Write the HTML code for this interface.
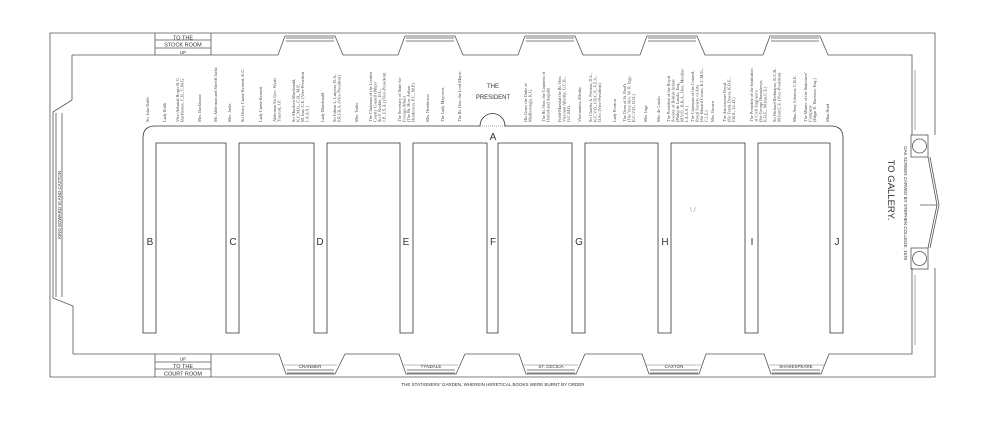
<!DOCTYPE html>
<html><head><meta charset="utf-8"><style>
html,body{margin:0;padding:0;background:#fff;width:1000px;height:428px;overflow:hidden}
svg{display:block}
.n{font-family:"Liberation Serif",serif;font-size:4.3px;fill:#444}
.c{font-family:"Liberation Sans",sans-serif;fill:#333}
</style></head><body>
<svg width="1000" height="428" viewBox="0 0 1000 428" xmlns="http://www.w3.org/2000/svg">
<g fill="none" stroke="#555" stroke-width="0.8">
<!-- outer walls -->
<path d="M935,135 V33 H50 V377 H935 V268"/>
<!-- inner top wall with window recesses -->
<path d="M72,55 H155 M211,55 H278 L285,36 H335 L343,55 H398 L405,36 H455 L463,55 H518 L525,36 H575 L583,55 H640 L647,36 H697 L705,55 H763 L770,36 H820 L828,55 H912 V135"/>
<!-- inner bottom wall -->
<path d="M73,354 H155 M211,354 H279 L286,374 H335 L345,354 H399 L406,374 H456 L465,354 H519 L526,374 H576 L585,354 H642 L649,374 H699 L706,354 H764 L771,374 H821 L829,354 H912 V268"/>
<!-- left wall with window -->
<path d="M72,55 V100 L53,112 V298 L73,306 V354"/>
<path d="M56,113 V297 M62,113 V297"/>
<!-- stock room / court room boxes -->
<path d="M155,33 V55 H211 V33 M155,40 H211 M155,48 H211"/>
<path d="M155,377 V354 H211 V377 M155,362 H211 M155,369 H211"/>
<!-- right gallery -->
<rect x="911" y="135" width="17" height="22"/>
<circle cx="919.5" cy="146" r="7"/>
<rect x="911" y="248" width="17" height="21"/>
<circle cx="919.5" cy="258.5" r="7"/>
<path d="M928,157 L937,205 L928,248 M930,157 L939,205 L930,248 M920,205 H937"/>
<path d="M915,70 V130 M915,275 V345" stroke-width="0.5"/>
<!-- tables comb -->
<path d="M143,333 V138 Q143,126 155,126 H480 A12.5,12.5 0 0 1 505,126 H831 Q843,126 843,138 V333 H830 V143 H758 V333 H745 V143 H671 V333 H658 V143 H585 V333 H572 V143 H498 V333 H487 V143 H413 V333 H400 V143 H327 V333 H314 V143 H239 V333 H226 V143 H156 V333 Z" stroke="#333"/>
<path d="M480,126 H505" stroke-width="0.5" stroke-dasharray="1,1"/>
</g>
<!-- window glass lines -->
<g stroke="#555" stroke-width="0.7" fill="none">
<path d="M286,38 H334 M286,41 H334 M406,38 H454 M406,41 H454 M526,38 H574 M526,41 H574 M648,38 H696 M648,41 H696 M771,38 H819 M771,41 H819"/>
<path d="M287,370 H334 M287,373 H334 M407,370 H455 M407,373 H455 M527,370 H575 M527,373 H575 M650,370 H698 M650,373 H698 M772,370 H820 M772,373 H820"/>
<path d="M284,365 H337 M404,365 H458 M524,365 H578 M646,365 H701 M769,365 H824" stroke-width="0.4"/>
</g>
<!-- labels -->
<g class="c" font-size="5.5" text-anchor="middle">
<text x="183" y="39.5">TO THE</text>
<text x="183" y="46.5">STOCK ROOM</text>
<text x="183" y="54" font-size="4.5">UP</text>
<text x="183" y="360.5" font-size="4.5">UP</text>
<text x="183" y="368">TO THE</text>
<text x="183" y="375.5">COURT ROOM</text>
<text x="310" y="368" font-size="4.5">CRANMER</text>
<text x="431" y="368" font-size="4.5">TYNDALE</text>
<text x="551" y="368" font-size="4.5">ST. CECILIA</text>
<text x="674" y="368" font-size="4.5">CAXTON</text>
<text x="796" y="368" font-size="4.5">SHAKESPEARE</text>
<text x="493" y="386" font-size="4.5">THE STATIONERS' GARDEN, WHEREIN HERETICAL BOOKS WERE BURNT BY ORDER</text>
<text transform="translate(61,205) rotate(-90)" font-size="4.5">KING EDWARD VI AND CAXTON</text>
<text transform="translate(904,203) rotate(90)" font-size="4.5">OAK SCREEN CARVED BY STEPHEN COLLEGE, 1670</text>
<text transform="translate(888,190) rotate(90)" font-size="9.5">TO GALLERY.</text>
</g>
<g class="c" font-size="6" text-anchor="middle" font-family="Liberation Serif,serif">
<text x="493" y="88">THE</text>
<text x="493" y="99">PRESIDENT</text>
</g>
<g class="c" font-size="10" text-anchor="middle">
<text x="493" y="140">A</text>
<text x="150" y="245">B</text>
<text x="233" y="245">C</text>
<text x="320" y="245">D</text>
<text x="406" y="245">E</text>
<text x="493" y="245">F</text>
<text x="579" y="245">G</text>
<text x="665" y="245">H</text>
<text x="752" y="245">I</text>
<text x="837" y="245">J</text>
</g>
<text x="690" y="212" font-size="7" fill="#666" font-family="Liberation Serif,serif">\ /</text>
<!-- names -->
<g class="n">
<text transform="translate(149,122) rotate(-90)">Sir John Robb</text>
<text transform="translate(166,122) rotate(-90)">Lady Robb</text>
<text transform="translate(179,122) rotate(-90)"><tspan x="0" y="0">Vice-Admiral Roger B. C.</tspan><tspan x="0" y="4.5">Backhouse, C.B., C.M.G.</tspan></text>
<text transform="translate(201,122) rotate(-90)">Mrs. Backhouse</text>
<text transform="translate(217,122) rotate(-90)">Mr. Alderman and Sheriff Jacks</text>
<text transform="translate(231,122) rotate(-90)">Mrs. Jacks</text>
<text transform="translate(244,122) rotate(-90)">Sir Henry Curtis-Bennett, K.C.</text>
<text transform="translate(262,122) rotate(-90)">Lady Curtis-Bennett</text>
<text transform="translate(276,122) rotate(-90)"><tspan x="0" y="0">Alderman Sir Geo. Wyatt</tspan><tspan x="0" y="4.5">Truscott, J.P.</tspan></text>
<text transform="translate(295,122) rotate(-90)"><tspan x="0" y="0">Sir Murdoch Macdonald,</tspan><tspan x="0" y="4.5">K.C.M.G., C.B., M.P.,</tspan><tspan x="0" y="9">M. Inst. C.E. (Vice-President</tspan><tspan x="0" y="13.5">I.A.A.S.)</tspan></text>
<text transform="translate(324,122) rotate(-90)">Lady Macdonald</text>
<text transform="translate(336,122) rotate(-90)"><tspan x="0" y="0">Sir Edwin L. Lutyens, R.A.,</tspan><tspan x="0" y="4.5">P.R.I.B.A. (Vice-President)</tspan></text>
<text transform="translate(358,122) rotate(-90)">Mrs. Tudor</text>
<text transform="translate(372,122) rotate(-90)"><tspan x="0" y="0">The Chairman of the London</tspan><tspan x="0" y="4.5">County Council (Major</tspan><tspan x="0" y="9">Sir F. Keeble, D.L.,</tspan><tspan x="0" y="13.5">J.P., F.S.A.) (Vice-President)</tspan></text>
<text transform="translate(401,122) rotate(-90)"><tspan x="0" y="0">The Secretary of State for</tspan><tspan x="0" y="4.5">Foreign Affairs</tspan><tspan x="0" y="9">(The Rt. Hon. Arthur</tspan><tspan x="0" y="13.5">Henderson, P.C., M.P.)</tspan></text>
<text transform="translate(429,122) rotate(-90)">Mrs. Henderson</text>
<text transform="translate(444,122) rotate(-90)">The Lady Mayoress</text>
<text transform="translate(461,122) rotate(-90)">The Rt. Hon. the Lord Mayor</text>
<text transform="translate(527,122) rotate(-90)"><tspan x="0" y="0">His Grace the Duke of</tspan><tspan x="0" y="4.5">Marlborough, K.G.</tspan></text>
<text transform="translate(545,122) rotate(-90)"><tspan x="0" y="0">The Rt. Hon. the Countess of</tspan><tspan x="0" y="4.5">Oxford and Asquith</tspan></text>
<text transform="translate(561,122) rotate(-90)"><tspan x="0" y="0">Field-Marshal the Rt. Hon.</tspan><tspan x="0" y="4.5">Viscount Allenby, G.C.B.,</tspan><tspan x="0" y="9">G.C.M.G.</tspan></text>
<text transform="translate(581,122) rotate(-90)">Viscountess Allenby</text>
<text transform="translate(592,122) rotate(-90)"><tspan x="0" y="0">Sir Charles A. Preston, D.L.,</tspan><tspan x="0" y="4.5">K.C.V.O., F.R.C.S., F.Z.S.,</tspan><tspan x="0" y="9">D.Sc. (Vice-President)</tspan></text>
<text transform="translate(616,122) rotate(-90)">Lady Preston</text>
<text transform="translate(626,122) rotate(-90)"><tspan x="0" y="0">The Dean of St. Paul's</tspan><tspan x="0" y="4.5">(The Very Rev. W. R. Inge,</tspan><tspan x="0" y="9">K.C.V.O., D.D.)</tspan></text>
<text transform="translate(647,122) rotate(-90)">Mrs. Inge</text>
<text transform="translate(660,122) rotate(-90)">Mrs. de Laszlo</text>
<text transform="translate(670,122) rotate(-90)"><tspan x="0" y="0">The President of the Royal</tspan><tspan x="0" y="4.5">Society of British Artists</tspan><tspan x="0" y="9">(Philip de Laszlo, Esq.,</tspan><tspan x="0" y="13.5">M.V.O., R.B.A., Hon. Member</tspan><tspan x="0" y="18">I.A.A.S.)</tspan></text>
<text transform="translate(694,122) rotate(-90)"><tspan x="0" y="0">The Chairman of the Council,</tspan><tspan x="0" y="4.5">Royal Society of Arts</tspan><tspan x="0" y="9">(Sir Edward Crowe, K.C.M.G.,</tspan><tspan x="0" y="13.5">C.I.E.)</tspan></text>
<text transform="translate(714,122) rotate(-90)">Mrs. Brown</text>
<text transform="translate(726,122) rotate(-90)"><tspan x="0" y="0">The Astronomer Royal</tspan><tspan x="0" y="4.5">(Sir Frank Dyson, K.B.E.,</tspan><tspan x="0" y="9">F.R.S., LL.D.)</tspan></text>
<text transform="translate(753,122) rotate(-90)"><tspan x="0" y="0">The President of the Institution</tspan><tspan x="0" y="4.5">of Civil Engineers</tspan><tspan x="0" y="9">(Sir George Humphreys,</tspan><tspan x="0" y="13.5">K.B.E., M.Inst.C.E.)</tspan></text>
<text transform="translate(776,122) rotate(-90)"><tspan x="0" y="0">Sir Richard Redmayne, K.C.B.,</tspan><tspan x="0" y="4.5">M.Inst.C.E. (Vice-President)</tspan></text>
<text transform="translate(796,122) rotate(-90)">Miss Amy Johnson, C.B.E.</text>
<text transform="translate(807,122) rotate(-90)"><tspan x="0" y="0">The Master of the Stationers'</tspan><tspan x="0" y="4.5">Company</tspan><tspan x="0" y="9">(Edgar E. Harrison, Esq.)</tspan></text>
<text transform="translate(829,122) rotate(-90)">Miss Hurd</text>
</g>
</svg>
</body></html>
